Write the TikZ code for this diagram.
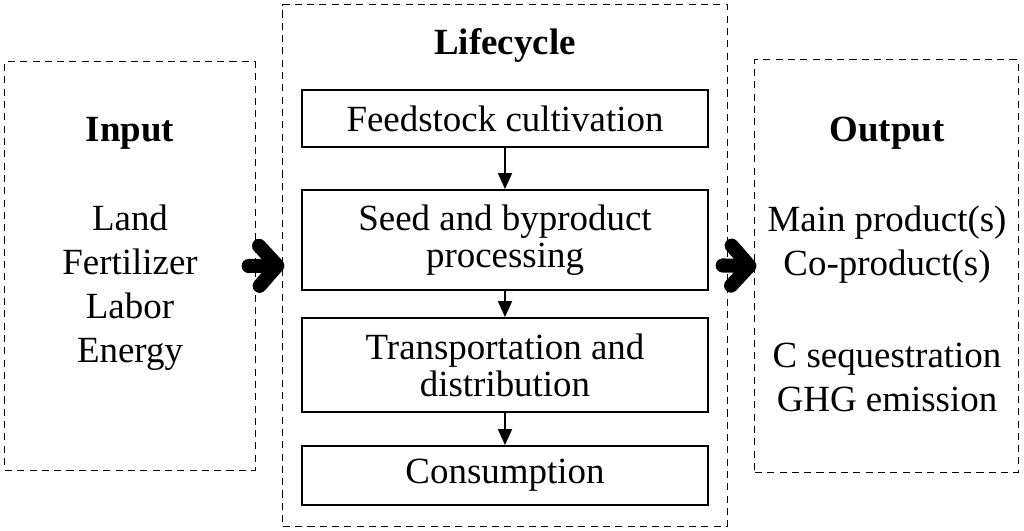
\documentclass[tikz,border=0pt]{standalone}
\usepackage{fontspec}
\setmainfont{Liberation Serif}
\usetikzlibrary{arrows.meta,positioning}
\begin{document}
\begin{tikzpicture}[x=0.01cm,y=-0.01cm,
  frame/.style={draw, dash pattern=on 2pt off 1.5pt, line width=0.3pt},
  stage/.style={draw, line width=0.5pt, minimum width=4.06cm, align=center, font=\fontsize{10.5}{10.5}\selectfont},
  item/.style={align=center, font=\fontsize{10.5}{12.5}\selectfont},
  title/.style={font=\bfseries\fontsize{10.5}{10.5}\selectfont},
  flow/.style={-{Triangle[length=1.6mm,width=1.4mm]}, line width=0.5pt},
  fat/.style={line width=4pt, line cap=round, -{Straight Barb[length=1.8mm,width=4mm,round]}}]
\useasboundingbox (0,0) rectangle (1024,531);
% dashed frames
\node [frame, minimum width=2.5cm, minimum height=4.08cm] (in) at (130,266) {};
\node [frame, minimum width=4.44cm, minimum height=5.21cm] (life) at (505,265.5) {};
\node [frame, minimum width=2.63cm, minimum height=4.12cm] (out) at (886.5,266) {};
% titles
\node [title] (tin) at (130,133) {Input};
\node [title] (tlife) at (505,45) {Lifecycle};
\node [title] (tout) at (887,133) {Output};
% lists
\node [item] (lin) at (130,288) {Land\\Fertilizer\\Labor\\Energy};
\node [item] (lout1) at (887,245) {Main product(s)\\Co-product(s)};
\node [item] (lout2) at (887,377) {C sequestration\\GHG emission};
% lifecycle stages
\node [stage, minimum height=0.57cm] (s1) at (505,118.5) {Feedstock cultivation};
\node [stage, minimum height=1.0cm] (s2) at (505,240) {Seed and byproduct\\processing};
\node [stage, minimum height=0.94cm] (s3) at (505,365) {Transportation and\\distribution};
\node [stage, minimum height=0.59cm] (s4) at (505,475.5) {Consumption};
\draw [flow] (s1) -- (s2);
\draw [flow] (s2) -- (s3);
\draw [flow] (s3) -- (s4);
% fat arrows
\draw [fat] ([xshift=-0.07cm]in.east) -- ([xshift=0.02cm]life.west);
\draw [fat] ([xshift=-0.05cm]life.east) -- ([xshift=0.02cm]out.west);
\end{tikzpicture}
\end{document}
